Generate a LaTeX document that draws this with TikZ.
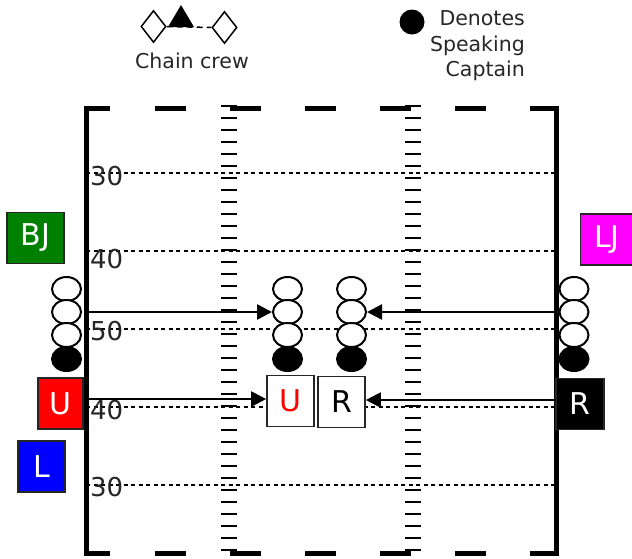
\documentclass[tikz,border=0pt]{standalone}
\usepackage{fontspec}
\setmainfont{DejaVu Sans}
\usetikzlibrary{shapes.geometric,arrows.meta}
\definecolor{bjgreen}{RGB}{0,128,0}
\definecolor{ljmagenta}{RGB}{255,0,255}
\definecolor{ured}{RGB}{255,0,0}
\definecolor{lblue}{RGB}{0,0,255}
\begin{document}
\begin{tikzpicture}[x=1pt,y=-1pt,line cap=butt,line join=miter,>={Triangle[length=15pt,width=15pt]}]
	\tikzset{
		official/.style={draw=black!85,line width=1.6pt,minimum height=51pt,inner sep=0pt,text=white,font=\fontsize{30}{30}\selectfont},
		spotbox/.style={draw=black!85,line width=1.6pt,fill=white,minimum width=47pt,minimum height=51pt,inner sep=0pt,font=\fontsize{30}{30}\selectfont},
		player/.style={ellipse,draw,line width=2pt,fill=white,minimum width=29pt,minimum height=24pt,inner sep=0pt},
		captain/.style={player,fill=black},
		yardnum/.style={anchor=west,inner sep=0pt,text=black!85,font=\fontsize{26}{26}\selectfont},
		legendtext/.style={inner sep=0pt,text=black!85,font=\fontsize{20.5}{25.5}\selectfont},
		crew/.style={diamond,draw,line width=1.5pt,fill=white,minimum width=25pt,minimum height=32pt,inner sep=0pt}
	}
	\useasboundingbox (0,0) rectangle (632,558);
	% yard lines and numbers
	\foreach \y/\n/\d in {173/30/3,251/40/8,329/50/2,407/40/3,485/30/2}{
		\draw[line width=1.2pt,dash pattern=on 4pt off 3.5pt] (86,\y)--(556,\y);
		\node[yardnum] (yn\y) at (90,{\y+\d}) {\n};
	}
	% hash marks
	\foreach \k in {0,...,37}
		\draw[line width=2.6pt] (221,{106+12*\k})--(237,{106+12*\k}) (405,{106+12*\k})--(421,{106+12*\k});
	% sidelines and end lines
	\draw[line width=5pt] (110,108)--(86,108)--(86,553)--(110,553)
		(530,108)--(556,108)--(556,553)--(530,553);
	\foreach \x in {155,230,305,380,455}
		\draw[line width=5pt] (\x,108)--({\x+31},108) (\x,553)--({\x+31},553);
	% officials
	\node[official,fill=bjgreen,minimum width=57pt] (bj) at (35.5,238) {BJ};
	\node[official,fill=ljmagenta,minimum width=53pt] (lj) at (607,239.5) {LJ};
	\node[official,fill=ured,minimum width=45pt] (u) at (60.5,403.5) {U};
	\node[official,fill=black,minimum width=48pt] (r) at (580,404) {R};
	\node[official,fill=lblue,minimum width=47pt] (l) at (41.5,466.5) {L};
	\node[spotbox,text=ured] (us) at (290.5,401) {U};
	\node[spotbox] (rs) at (341.5,402) {R};
	% chain gangs
	\foreach \sx/\s in {66.5/a,287.5/b,351.5/c,574/d}{
		\node[player] (\s1) at (\sx,289) {};
		\node[player] (\s2) at (\sx,312) {};
		\node[player] (\s3) at (\sx,335) {};
		\node[captain] (\s4) at (\sx,359) {};
	}
	% arrows
	\coordinate (lsu) at (86,312);
	\coordinate (rsu) at (556,312);
	\coordinate (lsl) at (86,399);
	\coordinate (rsl) at (556,400);
	\draw[->,line width=2.4pt] (lsu)--(b2.west);
	\draw[->,line width=2.4pt] (rsu)--(c2.east);
	\draw[->,line width=2pt] (lsl)--(lsl-|us.west);
	\draw[->,line width=2pt] (rsl)--(rsl-|rs.east);
	% legend
	\node[crew] (ccl) at (153.5,26.5) {};
	\node[crew] (ccr) at (224.5,27.5) {};
	\draw[line width=1.5pt,dash pattern=on 6pt off 4pt] (ccl.east)--(ccr.west);
	\fill (168,27)--(181,5)--(194,27)--cycle;
	\node[legendtext,anchor=base] (cc) at (192,68) {Chain crew};
	\node[circle,fill=black,minimum size=25pt,inner sep=0pt] (cap) at (412,22) {};
	\node[legendtext,align=right,anchor=north east] (capt) at (525,10.5) {Denotes\\Speaking\\Captain};
\end{tikzpicture}
\end{document}
